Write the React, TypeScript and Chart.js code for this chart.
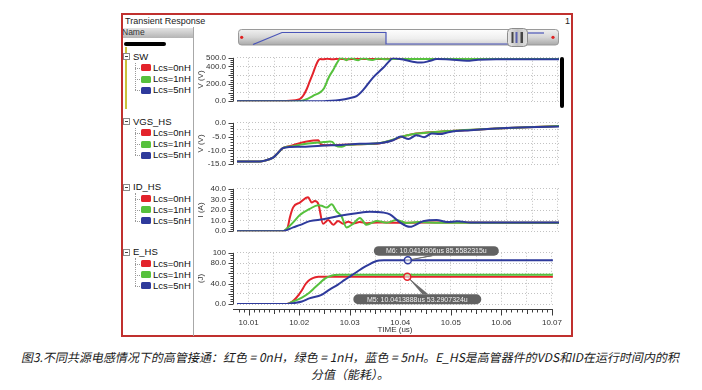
import React, { useEffect, useRef } from 'react';
import { Chart, registerables } from 'chart.js';

Chart.register(...registerables);

type Pt = [number, number];

// ---------- data ----------
const seriesNames = ['Lcs=0nH', 'Lcs=1nH', 'Lcs=5nH'];
const seriesColors = ['#e3232b', '#56c13d', '#2e3a9c'];

const timeMin = 10.0077;
const timeMax = 10.0702;
const timeGridValues = [10.01, 10.015, 10.02, 10.025, 10.03, 10.035, 10.04, 10.045, 10.05, 10.055, 10.06, 10.065, 10.07];
const timeTickLabels = ['10.01', '', '10.02', '', '10.03', '', '10.04', '', '10.05', '', '10.06', '', '10.07'];

const swTickValues = [0, 100, 200, 300, 400, 500];
const swTickLabels = ['0.0', '', '200.0', '', '400.0', '500.0'];
const vgsTickValues = [-15, -12.5, -10, -7.5, -5, -2.5, 0];
const vgsTickLabels = ['-15.0', '', '-10.0', '', '-5.0', '', '0.0'];
const idTickValues = [0, 10, 20, 30, 40];
const idTickLabels = ['0.0', '10.0', '20.0', '30.0', '40.0'];
const eTickValues = [0, 20, 40, 60, 80, 100];
const eTickLabels = ['0.0', '', '40.0', '', '80.0', '100'];

const swRed: Pt[] = [[10.0077, 0], [10.0165, 0], [10.0173, 1], [10.0185, 8], [10.0195, 18], [10.0199, 25], [10.0205, 60], [10.0212, 135], [10.0218, 225], [10.0225, 330], [10.023, 410], [10.02346, 468], [10.0239, 485], [10.0244, 482], [10.0252, 488], [10.0262, 483], [10.0275, 489], [10.029, 484], [10.031, 488], [10.034, 485], [10.038, 488], [10.045, 485], [10.055, 487], [10.0702, 486]];
const swGreen: Pt[] = [[10.0077, 0], [10.0197, 0], [10.0205, 8], [10.0212, 22], [10.02184, 40], [10.0228, 72], [10.02379, 100], [10.0246, 150], [10.02509, 215], [10.0256, 285], [10.02637, 360], [10.027, 430], [10.02767, 490], [10.028, 500], [10.0284, 490], [10.0289, 473], [10.0294, 488], [10.03, 497], [10.0306, 480], [10.0312, 472], [10.0318, 488], [10.0325, 495], [10.0332, 480], [10.034, 475], [10.0348, 488], [10.0356, 492], [10.0365, 482], [10.038, 486], [10.042, 487], [10.05, 485], [10.0702, 487]];
const swBlue: Pt[] = [[10.0077, 0], [10.0244, 0], [10.026, 4], [10.02767, 15], [10.0295, 35], [10.03091, 58], [10.0322, 130], [10.0341, 272], [10.03608, 385], [10.03738, 470], [10.038, 498], [10.039, 490], [10.04, 480], [10.0418, 455], [10.0435, 445], [10.045, 462], [10.0465, 485], [10.049, 480], [10.0523, 466], [10.0545, 478], [10.058, 483], [10.0702, 483]];

const vgsRed: Pt[] = [[10.0077, -14], [10.0121, -14], [10.0131, -13.7], [10.0147, -12.6], [10.0156, -11], [10.01666, -9.1], [10.018, -8.4], [10.0195, -7.6], [10.021, -6.9], [10.0225, -6.4], [10.0235, -6.3], [10.024, -7.8], [10.025, -8.1], [10.027, -8.0], [10.03, -7.9], [10.033, -7.7], [10.0355, -7.4], [10.0375, -6.5], [10.0395, -5.2], [10.0415, -4.2], [10.044, -3.6], [10.048, -3.1], [10.053, -2.6], [10.058, -2.1], [10.064, -1.6], [10.0702, -1.2]];
const vgsGreen: Pt[] = [[10.0077, -14], [10.0121, -14], [10.0131, -13.7], [10.0147, -12.6], [10.0156, -11], [10.01666, -9.1], [10.0185, -8.5], [10.0205, -7.8], [10.0225, -7.3], [10.0245, -7.0], [10.02573, -6.8], [10.0262, -6.9], [10.0268, -8.2], [10.028, -8.7], [10.029, -8.0], [10.031, -7.8], [10.033, -7.7], [10.0355, -7.3], [10.0375, -6.4], [10.0395, -5.1], [10.0415, -4.2], [10.044, -3.7], [10.048, -3.1], [10.053, -2.5], [10.058, -2.1], [10.064, -1.6], [10.0702, -1.2]];
const vgsBlue: Pt[] = [[10.0077, -14], [10.0121, -14], [10.0131, -13.7], [10.0147, -12.6], [10.0156, -11], [10.01666, -9.1], [10.02, -8.7], [10.024, -8.3], [10.028, -8.0], [10.0315, -7.6], [10.034, -7.5], [10.036, -7.2], [10.038, -6.3], [10.0395, -5.0], [10.041, -5.9], [10.0425, -4.5], [10.044, -5.2], [10.0455, -3.9], [10.047, -4.1], [10.049, -3.3], [10.053, -2.7], [10.058, -2.1], [10.064, -1.6], [10.0702, -1.3]];

const idRed: Pt[] = [[10.0077, 0], [10.0166, 0], [10.0175, 3], [10.01796, 13], [10.0186, 22.5], [10.0199, 27], [10.0215, 32], [10.0222, 27], [10.0228, 28.5], [10.0235, 25.6], [10.0244, 7], [10.0254, 10.5], [10.0264, 6], [10.0273, 9.7], [10.0283, 7], [10.0293, 9], [10.0303, 7.3], [10.0315, 8.6], [10.033, 7.6], [10.035, 8.3], [10.038, 7.9], [10.045, 8.1], [10.0702, 8.0]];
const idGreen: Pt[] = [[10.0077, 0], [10.0166, 0], [10.0175, 3], [10.0186, 8.3], [10.0199, 15.3], [10.0218, 21], [10.02346, 24.5], [10.02412, 24], [10.02509, 22.3], [10.02606, 25.4], [10.02703, 18.8], [10.028, 14], [10.02897, 3.6], [10.03025, 7.1], [10.03155, 12.5], [10.03285, 6], [10.0348, 9.7], [10.03674, 8], [10.03868, 10.5], [10.04062, 7.8], [10.043, 8.6], [10.047, 8.0], [10.0702, 8.0]];
const idBlue: Pt[] = [[10.0077, 0], [10.0166, 0], [10.0186, 3.6], [10.02, 6], [10.02184, 9.5], [10.02443, 11.3], [10.02767, 14.6], [10.03091, 17], [10.0335, 18.4], [10.03608, 17.6], [10.03738, 15.8], [10.03932, 8.3], [10.04126, 4.1], [10.04384, 9.5], [10.04645, 10.6], [10.0485, 8.6], [10.0505, 9.4], [10.053, 8.2], [10.058, 8.3], [10.0702, 8.2]];

const eRed: Pt[] = [[10.0077, 0], [10.0176, 0], [10.01796, 1], [10.019, 8], [10.0199, 18], [10.0206, 28], [10.0212, 38], [10.0218, 45], [10.02249, 49.6], [10.0232, 52.3], [10.02379, 53.3], [10.0702, 53.3]];
const eGreen: Pt[] = [[10.0077, 0], [10.0176, 0], [10.0186, 4], [10.02054, 12.5], [10.022, 22], [10.02315, 32.5], [10.0242, 42], [10.02509, 49.6], [10.026, 54], [10.02703, 56.6], [10.028, 57.2], [10.0702, 57.2]];
const eBlue: Pt[] = [[10.0077, 0], [10.0176, 0], [10.019, 2], [10.02054, 5], [10.022, 11], [10.02443, 18], [10.026, 28], [10.02767, 38], [10.029, 47], [10.03025, 55], [10.0316, 64], [10.03285, 72], [10.034, 78], [10.0348, 82], [10.0358, 84.8], [10.03674, 85.5], [10.0702, 85.56]];

const markerNames = ['M6', 'M5'];
const markerTimes = [10.0414906, 10.0413888];
const markerValues = [85.5582315, 53.2907324];
const markerSeries = [2, 0];
const markerTexts = ['M6: 10.0414906us 85.5582315u', 'M5: 10.0413888us 53.2907324u'];

const panelNames = ['SW', 'VGS_HS', 'ID_HS', 'E_HS'];
const panelUnits = ['V (V)', 'V (V)', 'I (A)', '(J)'];
const panelMin = [0, -15, 0, 0];
const panelMax = [500, 0, 40, 100];
const panelTickValues = [swTickValues, vgsTickValues, idTickValues, eTickValues];
const panelTickLabels = [swTickLabels, vgsTickLabels, idTickLabels, eTickLabels];
const panelSeries = [[swRed, swGreen, swBlue], [vgsRed, vgsGreen, vgsBlue], [idRed, idGreen, idBlue], [eRed, eGreen, eBlue]];
const panelMinorStep = [25, 1, 2, 5];
const panelMajorStep = [100, 5, 10, 20];

const captionLine1 = '图3.不同共源电感情况下的高管接通：红色 = 0nH，绿色 = 1nH，蓝色 = 5nH。E_HS是高管器件的VDS和ID在运行时间内的积';
const captionLine2 = '分值（能耗）。';

// ---------- layout (style only) ----------
const FONT = '"Liberation Sans", Arial, Helvetica, sans-serif';
const panelTop = [50, 115.5, 181.5, 245.5];
const panelBottom = [108.5, 172, 238.5, 304];
const treeGroupY = [56.7, 121.7, 187.3, 252.3];
const CANVAS_LEFT = 196;
const CANVAS_W = 380;
const AXIS_W = 41;
const PAD_R = 17;
const LAST_BOTTOM = 338;
const X_AXIS_H = 33.5;
const markerBox = [
  { dx: -34, dy: -14, w: 125, h: 9.5, lx: 24, ly: -4.5 },
  { dx: -54, dy: 17.5, w: 128, h: 10, lx: 18, ly: 17.5 },
];

function roundRectPath(ctx: CanvasRenderingContext2D, x: number, y: number, w: number, h: number, r: number) {
  ctx.beginPath();
  ctx.moveTo(x + r, y);
  ctx.lineTo(x + w - r, y);
  ctx.arcTo(x + w, y, x + w, y + r, r);
  ctx.lineTo(x + w, y + h - r);
  ctx.arcTo(x + w, y + h, x + w - r, y + h, r);
  ctx.lineTo(x + r, y + h);
  ctx.arcTo(x, y + h, x, y + h - r, r);
  ctx.lineTo(x, y + r);
  ctx.arcTo(x, y, x + r, y, r);
  ctx.closePath();
}

function PanelChart({ idx }: { idx: number }) {
  const ref = useRef<HTMLCanvasElement>(null);
  const isLast = idx === panelNames.length - 1;
  const canvasTop = Math.floor(panelTop[idx]) - 8;
  const canvasBottom = isLast ? LAST_BOTTOM : Math.ceil(panelBottom[idx]) + 8;
  const height = canvasBottom - canvasTop;
  const padTop = panelTop[idx] - canvasTop;
  const padBottom = isLast ? canvasBottom - panelBottom[idx] - X_AXIS_H : canvasBottom - panelBottom[idx];

  useEffect(() => {
    const canvas = ref.current;
    if (!canvas) return;
    const minorStep = panelMinorStep[idx];
    const majorStep = panelMajorStep[idx];
    const decor = {
      id: 'decor',
      afterDraw(chart: any) {
        const { ctx, chartArea: a, scales } = chart;
        const ys = scales.y;
        const xs = scales.x;
        ctx.save();
        ctx.strokeStyle = '#3c3c3c';
        ctx.lineWidth = 1;
        const ax = Math.round(a.left - 4) + 0.5;
        ctx.beginPath();
        ctx.moveTo(ax, a.top);
        ctx.lineTo(ax, a.bottom);
        const n = Math.round((panelMax[idx] - panelMin[idx]) / minorStep);
        for (let k = 0; k <= n; k++) {
          const v = panelMin[idx] + k * minorStep;
          const y = Math.round(ys.getPixelForValue(v)) + 0.5;
          const q = v / majorStep;
          const major = Math.abs(q - Math.round(q)) < 1e-6;
          ctx.moveTo(ax - (major ? 5 : 3), y);
          ctx.lineTo(ax, y);
        }
        ctx.stroke();
        if (isLast) {
          const y0 = Math.round(a.bottom + 5) + 0.5;
          ctx.beginPath();
          ctx.moveTo(a.left - 4, y0);
          ctx.lineTo(a.right, y0);
          const k0 = Math.ceil(timeMin * 1000);
          const k1 = Math.floor(timeMax * 1000);
          for (let k = k0; k <= k1; k++) {
            const x = Math.round(xs.getPixelForValue(k / 1000)) + 0.5;
            const len = k % 10 === 0 ? 6 : k % 5 === 0 ? 4.5 : 3;
            ctx.moveTo(x, y0);
            ctx.lineTo(x, y0 + len);
          }
          ctx.stroke();
          // markers
          for (let m = 0; m < markerNames.length; m++) {
            const px = xs.getPixelForValue(markerTimes[m]);
            const py = ys.getPixelForValue(markerValues[m]);
            const b = markerBox[m];
            const bx = px + b.dx;
            const by = py + b.dy;
            ctx.fillStyle = '#6b6b6b';
            ctx.beginPath();
            ctx.moveTo(px, py);
            ctx.lineTo(px + b.lx - 3, py + b.ly);
            ctx.lineTo(px + b.lx + 3, py + b.ly);
            ctx.closePath();
            ctx.fill();
            ctx.strokeStyle = '#6b6b6b';
            ctx.lineWidth = 1;
            ctx.beginPath();
            ctx.moveTo(px, py);
            ctx.lineTo(px + b.lx, py + b.ly);
            ctx.stroke();
            roundRectPath(ctx, bx, by, b.w, b.h, b.h / 2);
            ctx.fillStyle = '#626262';
            ctx.fill();
            ctx.fillStyle = '#f2f2f2';
            ctx.font = `7px ${FONT}`;
            ctx.textAlign = 'center';
            ctx.textBaseline = 'middle';
            ctx.fillText(markerTexts[m], bx + b.w / 2, by + b.h / 2 + 0.5);
            ctx.beginPath();
            ctx.arc(px, py, 3.5, 0, Math.PI * 2);
            ctx.fillStyle = 'rgba(255,255,255,0.55)';
            ctx.fill();
            ctx.strokeStyle = seriesColors[markerSeries[m]];
            ctx.lineWidth = 1.5;
            ctx.stroke();
          }
        }
        ctx.restore();
      },
    };

    const datasets = [2, 1, 0].map((s) => ({
      label: seriesNames[s],
      data: panelSeries[idx][s].map(([x, y]) => ({ x, y })),
      borderColor: seriesColors[s],
      backgroundColor: seriesColors[s],
      borderWidth: 2,
      pointRadius: 0,
      cubicInterpolationMode: 'monotone' as const,
      fill: false,
    }));

    const chart = new Chart(canvas, {
      type: 'line',
      data: { datasets },
      options: {
        animation: false,
        responsive: false,
        events: [],
        layout: { padding: { top: padTop, bottom: padBottom, left: 0, right: PAD_R } },
        plugins: { legend: { display: false }, tooltip: { enabled: false } },
        scales: {
          x: {
            type: 'linear',
            min: timeMin,
            max: timeMax,
            afterBuildTicks: (s: any) => {
              s.ticks = timeGridValues.map((v) => ({ value: v }));
            },
            afterFit: isLast
              ? (s: any) => {
                  s.height = X_AXIS_H;
                }
              : undefined,
            ticks: {
              display: isLast,
              autoSkip: false,
              maxRotation: 0,
              padding: 14,
              color: '#333',
              font: { family: FONT, size: 8 },
              callback: (_v: any, i: number) => timeTickLabels[i],
            },
            grid: { color: '#c2c2c2', lineWidth: 1, drawTicks: false },
            border: { display: false, dash: [1, 2] },
            title: {
              display: isLast,
              text: 'TIME (us)',
              color: '#333',
              font: { family: FONT, size: 8 },
              padding: { top: 0, bottom: 2.5 },
            },
          },
          y: {
            type: 'linear',
            min: panelMin[idx],
            max: panelMax[idx],
            afterBuildTicks: (s: any) => {
              s.ticks = panelTickValues[idx].map((v) => ({ value: v }));
            },
            afterFit: (s: any) => {
              s.width = AXIS_W;
            },
            ticks: {
              autoSkip: false,
              padding: 11,
              color: '#333',
              font: { family: FONT, size: 8 },
              callback: (_v: any, i: number) => panelTickLabels[idx][i],
            },
            grid: { color: '#c2c2c2', lineWidth: 1, drawTicks: false },
            border: { display: false, dash: [1, 2] },
            title: {
              display: true,
              text: panelUnits[idx],
              color: '#333',
              font: { family: FONT, size: 8 },
              padding: { top: 0, bottom: 0 },
            },
          },
        },
      } as any,
      plugins: [decor],
    });
    return () => chart.destroy();
  }, [idx]);

  return (
    <canvas
      ref={ref}
      width={CANVAS_W}
      height={height}
      style={{ position: 'absolute', left: CANVAS_LEFT, top: canvasTop, width: CANVAS_W, height }}
    />
  );
}

function Tree() {
  return (
    <>
      {panelNames.map((name, i) => {
        const gy = treeGroupY[i];
        const lastY = gy + 11.2 * seriesNames.length;
        return (
          <React.Fragment key={name}>
            <div style={{ position: 'absolute', left: 123, top: gy - 3.5, width: 7, height: 7, border: '1px solid #8a8a8a', boxSizing: 'border-box', background: '#fff' }}>
              <div style={{ position: 'absolute', left: 1, top: 2, width: 3, height: 1, background: '#444' }} />
            </div>
            <div style={{ position: 'absolute', left: 133, top: gy - 6, font: `9.5px ${FONT}`, lineHeight: '12px', color: '#111', whiteSpace: 'nowrap' }}>{name}</div>
            <div style={{ position: 'absolute', left: 135, top: gy + 6, width: 0, height: lastY - gy - 6, borderLeft: '1px dotted #999' }} />
            {seriesNames.map((s, k) => {
              const iy = gy + 11.2 * (k + 1);
              return (
                <React.Fragment key={s}>
                  <div style={{ position: 'absolute', left: 135, top: iy, width: 5, height: 0, borderTop: '1px dotted #999' }} />
                  <div style={{ position: 'absolute', left: 141, top: iy - 3.5, width: 10, height: 7, background: seriesColors[k], borderRadius: 1.5 }} />
                  <div style={{ position: 'absolute', left: 153, top: iy - 6, font: `9.5px ${FONT}`, lineHeight: '12px', color: '#111', whiteSpace: 'nowrap' }}>{s}</div>
                </React.Fragment>
              );
            })}
          </React.Fragment>
        );
      })}
    </>
  );
}

function ScrollBar() {
  return (
    <svg width={330} height={22} style={{ position: 'absolute', left: 234, top: 27 }} viewBox="234 27 330 22">
      <defs>
        <linearGradient id="sbDark" x1="0" y1="0" x2="0" y2="1">
          <stop offset="0" stopColor="#f0f0f0" />
          <stop offset="0.5" stopColor="#d6d6d6" />
          <stop offset="1" stopColor="#a9a9a9" />
        </linearGradient>
        <linearGradient id="sbLight" x1="0" y1="0" x2="0" y2="1">
          <stop offset="0" stopColor="#fdfdfd" />
          <stop offset="0.6" stopColor="#eeeeee" />
          <stop offset="1" stopColor="#d2d2d2" />
        </linearGradient>
        <linearGradient id="thumb" x1="0" y1="0" x2="1" y2="0">
          <stop offset="0" stopColor="#e8e8e8" />
          <stop offset="0.5" stopColor="#c4c4c4" />
          <stop offset="1" stopColor="#e0e0e0" />
        </linearGradient>
      </defs>
      <rect x={238.5} y={29.5} width={320} height={15.5} rx={3} fill="url(#sbDark)" stroke="#9a9a9a" />
      <rect x={386} y={30} width={122} height={14.5} fill="url(#sbLight)" />
      <polyline points="253,44.5 282,32.5 386,32.5 386,44 508,44" fill="none" stroke="#4a55b8" strokeWidth={1.2} />
      <polyline points="527,33 544,33" fill="none" stroke="#4a55b8" strokeWidth={1.2} />
      <circle cx={241.7} cy={37.3} r={1.6} fill="#e02020" />
      <circle cx={553} cy={37.3} r={1.6} fill="#e02020" />
      <rect x={507.5} y={28.5} width={20} height={18} rx={4} fill="url(#thumb)" stroke="#8c8c8c" />
      <rect x={511.5} y={32} width={2} height={11} fill="#444" />
      <rect x={515.5} y={32} width={2} height={11} fill="#5a62b0" />
      <rect x={520.5} y={32} width={2.5} height={11} fill="#444" />
    </svg>
  );
}

const captionStyle: React.CSSProperties = {
  position: 'absolute',
  left: 0,
  width: 702,
  textAlign: 'center',
  font: `12px "Noto Sans CJK SC", sans-serif`,
  lineHeight: '16px',
  color: '#1a1a1a',
  whiteSpace: 'nowrap',
  transform: 'skewX(-12deg)',
  transformOrigin: '50% 50%',
};

export default function App() {
  return (
    <div style={{ position: 'absolute', left: 0, top: 0, width: 702, height: 390, background: '#fff', overflow: 'hidden', fontFamily: FONT }}>
      <div style={{ position: 'absolute', left: 121, top: 13, width: 452, height: 324, border: '2px solid #c0302e', boxSizing: 'border-box', background: '#fff' }} />
      <div style={{ position: 'absolute', left: 125, top: 16, font: `9px ${FONT}`, lineHeight: '11px', color: '#222' }}>Transient Response</div>
      <div style={{ position: 'absolute', left: 565, top: 16, font: `9px ${FONT}`, lineHeight: '11px', color: '#222' }}>1</div>
      <div style={{ position: 'absolute', left: 123, top: 28, width: 70, height: 10, background: 'linear-gradient(#e4e4e4, #b4b4b4)', overflow: 'hidden' }}>
        <div style={{ position: 'absolute', left: -1, top: -1, font: `8.5px ${FONT}`, lineHeight: '11px', color: '#333' }}>Name</div>
      </div>
      <div style={{ position: 'absolute', left: 124, top: 42, width: 42, height: 4, borderRadius: 2, background: '#000' }} />
      <div style={{ position: 'absolute', left: 125, top: 47, width: 2, height: 62, background: '#c9c23c' }} />
      <div style={{ position: 'absolute', left: 193, top: 27, width: 1, height: 309, background: '#a8a8a8' }} />
      <Tree />
      <ScrollBar />
      {panelNames.map((n, i) => (
        <PanelChart key={n} idx={i} />
      ))}
      <div style={{ position: 'absolute', left: 560, top: 57, width: 4, height: 51, borderRadius: 2, background: '#000' }} />
      <div style={{ ...captionStyle, top: 349 }}>{captionLine1}</div>
      <div style={{ ...captionStyle, top: 366 }}>{captionLine2}</div>
    </div>
  );
}
